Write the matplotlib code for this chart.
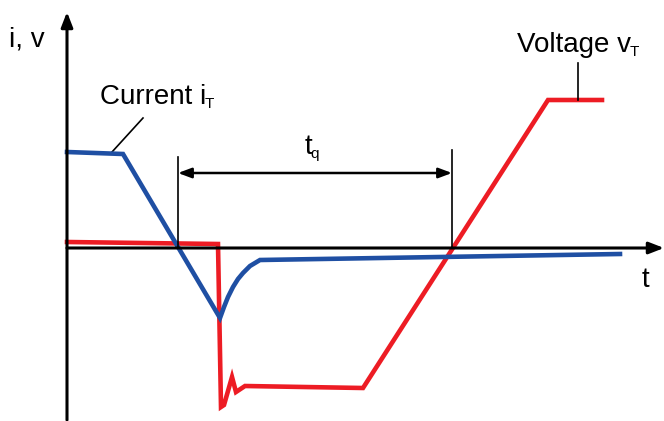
import matplotlib.pyplot as plt

plt.rcParams['font.family'] = ['Liberation Sans', 'DejaVu Sans']

BLUE = "#1f4fa3"
RED = "#ed1c24"

# current i_T (time, value) - arbitrary units, origin at the axes crossing
cur_t = [0, 56, 153, 157, 161, 166, 171, 176, 183, 193, 553]
cur_i = [96, 94, -70, -59, -49, -39, -31, -25, -18, -12, -6]

# voltage v_T
volt_t = [0, 151, 154, 157, 165, 169, 178, 296, 481, 535]
volt_v = [6, 4, -159, -157, -129, -144, -138, -140, 148, 148]

# turn-off interval markers
tq_start = 111
tq_end = 385

fig = plt.figure(figsize=(6.64, 4.21), dpi=100)
ax = fig.add_axes([0, 0, 1, 1])
ax.set_xlim(-67, 597)
ax.set_ylim(-173, 248)
ax.axis('off')

ax.plot(cur_t, cur_i, color=BLUE, lw=3.3, solid_joinstyle='miter', zorder=3)
ax.plot(volt_t, volt_v, color=RED, lw=3.3, solid_joinstyle='miter', zorder=2)

# axes with arrows
arrow = dict(arrowstyle='-|>,head_length=0.9,head_width=0.35', color='black', lw=2.2,
             shrinkA=0, shrinkB=0)
ax.annotate("", xy=(0, 236), xytext=(0, -172), arrowprops=arrow, zorder=4)
ax.annotate("", xy=(597, 0), xytext=(0, 0), arrowprops=arrow, zorder=4)

# t_q dimension
ax.plot([tq_start, tq_start], [0, 91], color='black', lw=1.2, zorder=4)
ax.plot([tq_end, tq_end], [0, 98], color='black', lw=1.2, zorder=4)
ax.annotate("", xy=(tq_end, 75), xytext=(tq_start, 75),
            arrowprops=dict(arrowstyle='<|-|>,head_length=0.8,head_width=0.3',
                            color='black', lw=1.8, shrinkA=0, shrinkB=0))


def label(x, y, main, sub=None, ha='left'):
    t = ax.text(x, y, main, fontsize=20, ha=ha, va='center')
    if sub:
        ax.annotate(sub, xy=(1, 0), xycoords=t, xytext=(-1, -1),
                    textcoords='offset points', fontsize=11, ha='left', va='bottom')


label(241, 101, "t", "q", ha='center')
label(-40, 208, "i, v", ha='center')
label(578, -32, "t", ha='center')
label(33, 151, "Current i", "T")
label(450, 203, "Voltage v", "T")

# leader lines
ax.plot([76, 45], [130, 96], color='black', lw=1.2)
ax.plot([511, 511], [185, 148], color='black', lw=1.2)

fig.savefig("out.png", dpi=100)
